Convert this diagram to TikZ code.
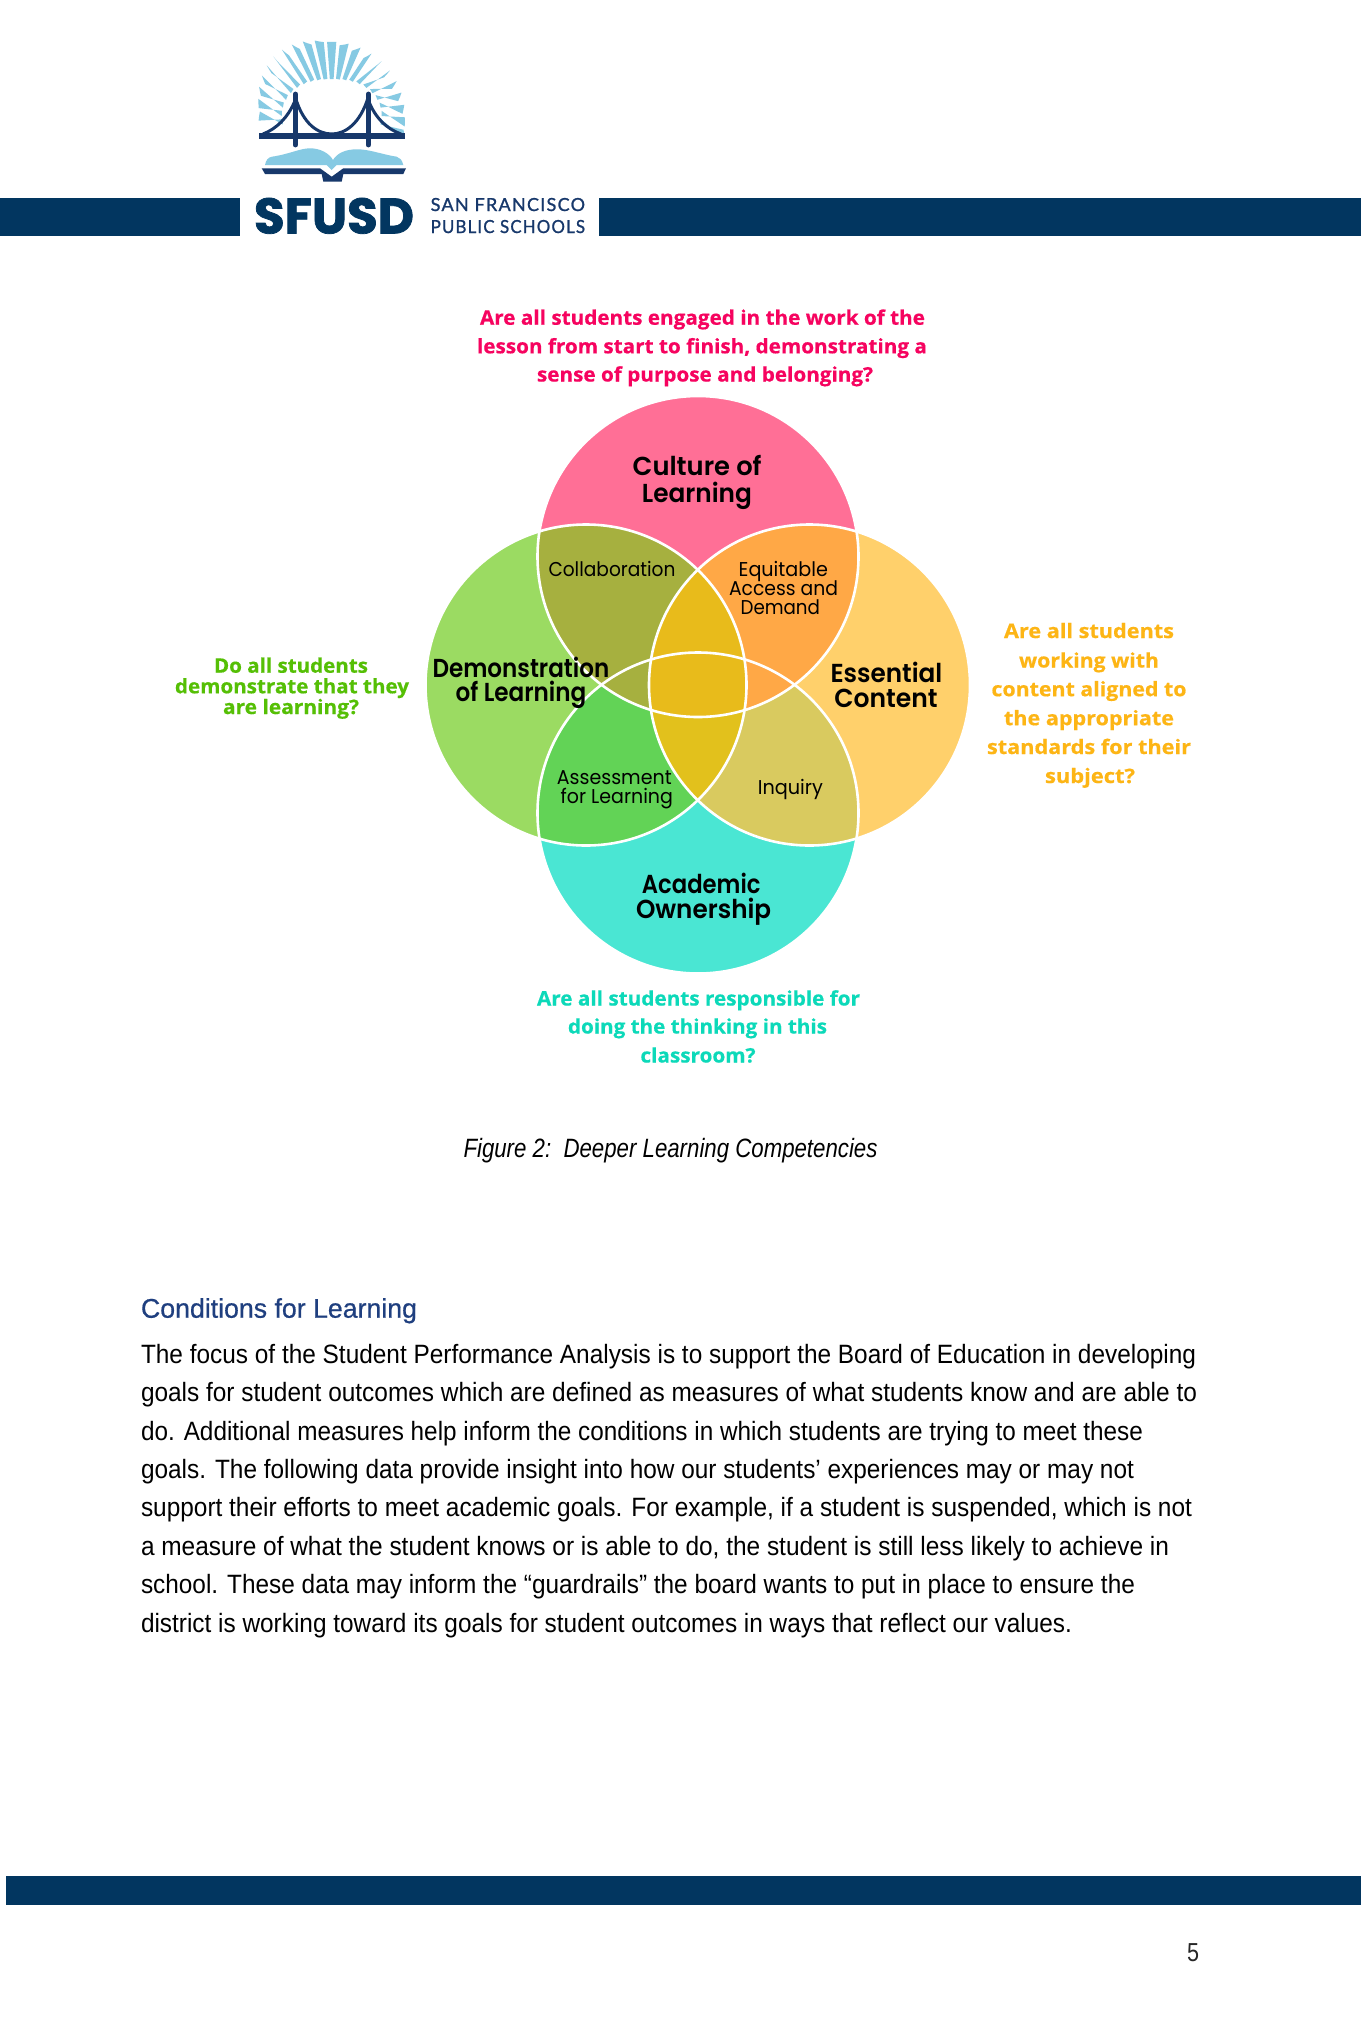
\documentclass[tikz,border=0pt]{standalone}
\usepackage{fontspec}
\usepackage{graphicx}
\setmainfont{Liberation Sans}
\newfontfamily\headf{Liberation Sans}[FakeBold=0.6]
\newfontfamily\osb{Open Sans}[BoldFeatures={FakeBold=0.5}]
\newfontfamily\pop{Poppins}
\newfontfamily\popx{Poppins}[BoldFeatures={FakeBold=1.5}]
\newfontfamily\popsb{Poppins SemiBold}
\newfontfamily\lat{Lato}[LetterSpace=7,FakeBold=1.2]
\newcommand{\fw}[2]{\resizebox{#1pt}{\height}{#2}}
\definecolor{bar}{HTML}{023660}
\definecolor{navy}{HTML}{17386B}
\definecolor{sky}{HTML}{86CAE3}
\definecolor{cpink}{HTML}{FF6F96}
\definecolor{cgreen}{HTML}{9BDB62}
\definecolor{cyellow}{HTML}{FFD06B}
\definecolor{cteal}{HTML}{4AE6D3}
\definecolor{colive}{HTML}{A6B03F}
\definecolor{corange}{HTML}{FFA846}
\definecolor{cbright}{HTML}{62D356}
\definecolor{ckhaki}{HTML}{D9CA5F}
\definecolor{cgold}{HTML}{E8BB1B}
\definecolor{cgold2}{HTML}{E2C11C}
\definecolor{qpink}{HTML}{F6035F}
\definecolor{qgreen}{HTML}{55BF05}
\definecolor{qyellow}{HTML}{FDB515}
\definecolor{qteal}{HTML}{0CD9B9}
\definecolor{head}{HTML}{1F3F7F}
\tikzset{
  txt/.style={anchor=base west,inner sep=0pt,outer sep=0pt},
  qtxt/.style={txt,font={\osb\bfseries\fontsize{20}{24}\selectfont}},
  big/.style={txt,text=black,font={\popsb\fontsize{26}{30}\selectfont}},
  small/.style={txt,text=black,font={\pop\fontsize{20}{24}\selectfont}},
  body/.style={txt,text=black,font={\fontsize{26.5}{30}\selectfont}},
}
\def\cP{(698,556.5) circle[radius=160.5pt]}
\def\cT{(698,813) circle[radius=160.5pt]}
\def\cG{(586,685) circle[radius=160.5pt]}
\def\cY{(809.5,685) circle[radius=160.5pt]}
\begin{document}
\begin{tikzpicture}[x=1pt,y=-1pt]
\path[use as bounding box,fill=white] (0,0) rectangle (1361,2024);
% bars
\fill[bar] (0,198) rectangle (240,236);
\fill[bar] (599,198) rectangle (1361,236);
\fill[bar] (6,1876) rectangle (1361,1904.5);
% logo sun rays
\foreach \a in {-8,1.8,...,188.1}{
  \pgfmathsetmacro{\rin}{36+14*cos(\a)*cos(\a)}
  \fill[sky] ({331.7+73.3*cos(\a-3.6)},{115-73.3*sin(\a-3.6)})
    arc[start angle=-(\a-3.6),end angle=-(\a+3.6),radius=73.3pt]
    -- ({331.7+\rin*cos(\a+3)},{115-\rin*sin(\a+3)})
    -- ({331.7+\rin*cos(\a-3)},{115-\rin*sin(\a-3)}) -- cycle;
}
% logo bridge
\fill[navy] (259.3,132.7) rectangle (405,139);
\draw[navy,line width=4.8pt,line cap=round] (295.3,94) -- (295.3,145);
\draw[navy,line width=4.8pt,line cap=round] (368.3,94) -- (368.3,145);
\draw[navy,line width=3pt] (295.3,97) .. controls (303,124) and (318,134) .. (331.7,134) .. controls (345,134) and (360,124) .. (368.3,97);
\draw[navy,line width=3pt] (295.3,100) .. controls (288,118) and (276,129) .. (263,134);
\draw[navy,line width=3pt] (368.3,100) .. controls (375,118) and (387,129) .. (401,134);
% logo book
\fill[sky] (265,165) .. controls (266,160) and (268,157.5) .. (272,156.7) .. controls (290,154) and (300,148.3) .. (310,148.3) .. controls (320,148.3) and (329,153) .. (333,160) .. controls (337,153) and (346,149.3) .. (356.7,149.3) .. controls (370,149.3) and (380,154) .. (396.7,156.7) .. controls (400,157.5) and (402,160) .. (403.3,165) -- (336.7,165) -- (331.7,170) -- (326.7,165) -- cycle;
\fill[navy] (261.7,168.3) -- (320,168.3) -- (331.7,176.7) -- (343.3,168.3) -- (406,168.3) -- (403.3,174) -- (343.3,174) -- (341.7,181.7) -- (323.3,181.7) -- (321.7,174) -- (265,174) -- cycle;
% logo text
\node[txt,text=bar,font={\popx\bfseries\fontsize{50}{50}\selectfont}] (sfusd) at (254,233.5) {\fw{160}{SFUSD}};
\node[txt,text=navy,font={\lat\fontsize{18}{18}\selectfont}] (sanf) at (430.7,211) {\fw{154.3}{SAN FRANCISCO}};
\node[txt,text=navy,font={\lat\fontsize{18}{18}\selectfont}] (pubs) at (430.7,233) {\fw{154.3}{PUBLIC SCHOOLS}};
% venn: base circles
\fill[cpink] \cP; \fill[cgreen] \cG; \fill[cyellow] \cY; \fill[cteal] \cT;
% pairwise
\begin{scope}\clip \cP; \fill[colive] \cG; \fill[corange] \cY; \fill[colive] \cG; \end{scope}
\begin{scope}\clip \cT; \fill[cbright] \cG; \fill[ckhaki] \cY; \end{scope}
% pink-green and pink-yellow small regions that also lie in teal
\begin{scope}\clip \cP; \clip \cT; \fill[colive] \cG; \fill[corange] \cY; \end{scope}
% green-yellow lens
\begin{scope}\clip \cG; \clip \cY; \fill[cgold2] (400,400) rectangle (1000,1000); \clip \cP; \fill[cgold] (400,400) rectangle (1000,1000); \end{scope}
% white outlines
\draw[white,line width=2.6pt] \cP; \draw[white,line width=2.6pt] \cG; \draw[white,line width=2.6pt] \cY; \draw[white,line width=2.6pt] \cT;
% venn labels
\node[big] (l1a) at (632.7,475.7) {\fw{128.9}{Culture of}};
\node[big] (l1b) at (641.9,502.5) {\fw{110}{Learning}};
\node[small] (l2) at (548.5,576) {\fw{127}{Collaboration}};
\node[small] (l3a) at (738.7,576) {\fw{89.2}{Equitable}};
\node[small] (l3b) at (729,595.5) {\fw{109}{Access and}};
\node[small] (l3c) at (740.6,614.6) {\fw{79.4}{Demand}};
\node[big] (l4a) at (432.5,677.4) {\fw{176.8}{Demonstration}};
\node[big] (l4b) at (455.5,701.5) {\fw{130.9}{of Learning}};
\node[big] (l5a) at (830.5,682.3) {\fw{111.8}{Essential}};
\node[big] (l5b) at (834.4,707.2) {\fw{103.3}{Content}};
\node[small] (l6a) at (556.9,784.5) {\fw{114.8}{Assessment}};
\node[small] (l6b) at (560.7,803.6) {\fw{112.2}{for Learning}};
\node[small] (l7) at (757.8,794) {\fw{65.1}{Inquiry}};
\node[big] (l8a) at (641.9,893.6) {\fw{118.6}{Academic}};
\node[big] (l8b) at (636,918.5) {\fw{135.2}{Ownership}};
% questions
\node[qtxt,text=qpink] (qp1) at (480,324.7) {\fw{445}{Are all students engaged in the work of the}};
\node[qtxt,text=qpink] (qp2) at (477,353.3) {\fw{450}{lesson from start to finish, demonstrating a}};
\node[qtxt,text=qpink] (qp3) at (537,381.5) {\fw{336}{sense of purpose and belonging?}};
\node[qtxt,text=qgreen] (qg1) at (214,672.7) {\fw{154}{Do all students}};
\node[qtxt,text=qgreen] (qg2) at (175,693.3) {\fw{234}{demonstrate that they}};
\node[qtxt,text=qgreen] (qg3) at (223,714) {\fw{136}{are learning?}};
\node[qtxt,text=qyellow] (qy1) at (1004,638) {\fw{170}{Are all students}};
\node[qtxt,text=qyellow] (qy2) at (1019,667.5) {\fw{140}{working with}};
\node[qtxt,text=qyellow] (qy3) at (991.5,696.2) {\fw{195}{content aligned to}};
\node[qtxt,text=qyellow] (qy4) at (1004,725.2) {\fw{170}{the appropriate}};
\node[qtxt,text=qyellow] (qy5) at (987,754) {\fw{204}{standards for their}};
\node[qtxt,text=qyellow] (qy6) at (1045,783) {\fw{90}{subject?}};
\node[qtxt,text=qteal] (qt1) at (537,1005.5) {\fw{323}{Are all students responsible for}};
\node[qtxt,text=qteal] (qt2) at (568,1033.5) {\fw{259}{doing the thinking in this}};
\node[qtxt,text=qteal] (qt3) at (640.5,1062.5) {\fw{115}{classroom?}};
% caption
\node[txt,text=black,font={\itshape\fontsize{26.5}{30}\selectfont}] (cap) at (463.5,1157.7) {\fw{414}{Figure 2:\ \ Deeper Learning Competencies}};
% heading and body
\node[txt,text=head,font={\headf\fontsize{27}{30}\selectfont}] (hd) at (141,1317.7) {\fw{276}{Conditions for Learning}};
\node[body] (b1) at (141,1363) {\fw{1055}{The focus of the Student Performance Analysis is to support the Board of Education in developing}};
\node[body] (b2) at (141,1401.5) {\fw{1056}{goals for student outcomes which are defined as measures of what students know and are able to}};
\node[body] (b3) at (141,1440) {\fw{1002}{do. Additional measures help inform the conditions in which students are trying to meet these}};
\node[body] (b4) at (141,1478) {\fw{993}{goals. The following data provide insight into how our students' experiences may or may not}};
\node[body] (b5) at (141,1516.5) {\fw{1051}{support their efforts to meet academic goals. For example, if a student is suspended, which is not}};
\node[body] (b6) at (141,1555) {\fw{1028}{a measure of what the student knows or is able to do, the student is still less likely to achieve in}};
\node[body] (b7) at (141,1593) {\fw{994}{school. These data may inform the “guardrails” the board wants to put in place to ensure the}};
\node[body] (b8) at (141,1632) {\fw{931}{district is working toward its goals for student outcomes in ways that reflect our values.}};
\node[txt,text=black!85,font={\fontsize{26}{30}\selectfont}] (pg) at (1187,1961.7) {\fw{12}{5}};
\end{tikzpicture}
\end{document}
